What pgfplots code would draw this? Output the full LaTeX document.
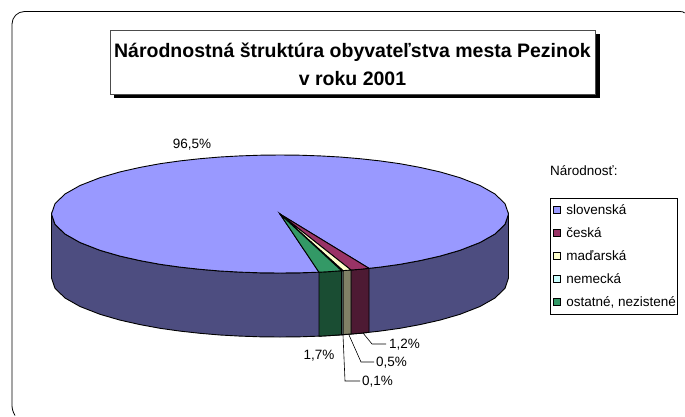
\documentclass[border=0pt]{standalone}
\usepackage{fontspec}
\setmainfont{Liberation Sans}
\usepackage{pgfplots}
\pgfplotsset{compat=1.18}
\definecolor{cSlov}{HTML}{9999FF}
\definecolor{cCes}{HTML}{993366}
\definecolor{cMad}{HTML}{FFFFCC}
\definecolor{cNem}{HTML}{CCFFFF}
\definecolor{cOst}{HTML}{339966}
\definecolor{sSlov}{HTML}{4D4D80}
\definecolor{sCes}{HTML}{4D1A33}
\definecolor{sMad}{HTML}{808066}
\definecolor{sNem}{HTML}{668080}
\definecolor{sOst}{HTML}{1A4D33}
\newcommand{\lab}{\fontsize{13.5}{16}\selectfont}
\begin{document}
\begin{tikzpicture}
\begin{axis}[
  scale only axis, width=685pt, height=416pt,
  xmin=0, xmax=685, ymin=0, ymax=416, y dir=reverse,
  axis lines=none, clip=false,
  legend style={at={(axis cs:549.5,197.7)}, anchor=north west, draw=black, line width=0.7pt,
    font=\lab, row sep=7.5pt, inner xsep=0.5pt, inner ysep=4.5pt,
    nodes={inner xsep=1.5pt},
    cells={anchor=west}, legend cell align=left},
  every axis plot/.append style={line width=0.9pt},
  legend image code/.code={\path (0pt,0pt); \draw[#1,line width=0.8pt] (2.8pt,-3.5pt) rectangle (9.8pt,3.5pt); \path (13.5pt,0pt);},
]
\path (axis cs:0,0) rectangle (axis cs:685,416);
% side wall, whole front
\addplot[fill=sSlov, draw=black, forget plot] coordinates {
(51.5,214)(55,224.3)(65,234)(80,242.5)(100,250.3)(120,256.1)(140,260.6)(160,264.3)(180,267.1)(200,269.3)(220,271)(240,272.1)(260,272.8)(280,273)(300,272.8)(320,272.1)(340,271)(360,269.3)(380,267.1)(400,264.3)(420,260.6)(440,256.1)(460,250.3)(480,242.5)(495,234)(505,224.3)(508.5,214)
(508.5,278)(505,288.3)(495,298)(480,306.5)(460,314.3)(440,320.1)(420,324.6)(400,328.3)(380,331.1)(360,333.3)(340,335)(320,336.1)(300,336.8)(280,337)(260,336.8)(240,336.1)(220,335)(200,333.3)(180,331.1)(160,328.3)(140,324.6)(120,320.1)(100,314.3)(80,306.5)(65,298)(55,288.3)(51.5,278)
} -- cycle;
% side wall of the small slices
\addplot[fill=sCes, draw=black, forget plot] coordinates {(351,270)(360,269.3)(369,268.3)(369,332.3)(360,333.3)(351,334)} -- cycle;
\addplot[fill=sMad, draw=black, forget plot] coordinates {(343,270.6)(351,270)(351,334)(343,334.6)} -- cycle;
\addplot[fill=sNem, draw=black, forget plot] coordinates {(341.5,270.7)(343,270.6)(343,334.6)(341.5,334.7)} -- cycle;
\addplot[fill=sOst, draw=black, forget plot] coordinates {(319,272.2)(330,271.6)(341.5,270.7)(341.5,334.7)(330,335.6)(319,336.2)} -- cycle;
% top faces
\addplot[fill=cSlov, draw=black] coordinates {
(280,214)(319,272.2)(300,272.8)(280,273)(260,272.8)(240,272.1)(220,271)(200,269.3)(180,267.1)(160,264.3)(140,260.6)(120,256.1)(100,250.3)(80,242.5)(65,234)(55,224.3)(51.5,214)
(55,203.7)(65,194)(80,185.5)(100,177.7)(120,171.9)(140,167.4)(160,163.7)(180,160.9)(200,158.7)(220,157)(240,155.9)(260,155.2)(280,155)(300,155.2)(320,155.9)(340,157)(360,158.7)(380,160.9)(400,163.7)(420,167.4)(440,171.9)(460,177.7)(480,185.5)(495,194)(505,203.7)(508.5,214)
(505,224.3)(495,234)(480,242.5)(460,250.3)(440,256.1)(420,260.6)(400,264.3)(380,267.1)(369,268.3)
} -- cycle;
\addlegendentry{slovenská}
\addplot[fill=cCes, draw=black] coordinates {(280,214)(369,268.3)(360,269.3)(351,270)} -- cycle;
\addlegendentry{česká}
\addplot[fill=cMad, draw=black] coordinates {(280,214)(351,270)(343,270.6)} -- cycle;
\addlegendentry{maďarská}
\addplot[fill=cNem, draw=black] coordinates {(280,214)(343,270.6)(341.5,270.7)} -- cycle;
\addlegendentry{nemecká}
\addplot[fill=cOst, draw=black] coordinates {(280,214)(341.5,270.7)(330,271.6)(319,272.2)} -- cycle;
\addlegendentry{ostatné, nezistené}
% chart frame (cut by the picture's edge)
\draw[black, line width=0.8pt] (axis cs:15,415.5) .. controls (axis cs:13,412) and (axis cs:12,409) .. (axis cs:12,405) -- (axis cs:12,24) arc[start angle=180, end angle=90, radius=12.5pt] -- (axis cs:680,11.5) .. controls (axis cs:682,11.5) and (axis cs:684,12) .. (axis cs:684.6,13);
% title
\fill[black] (axis cs:113.5,34) rectangle (axis cs:599.7,98);
\draw[fill=white, draw=black!70, line width=0.7pt] (axis cs:110,30.7) rectangle (axis cs:595.7,94.3);
\node[font=\fontsize{19.5}{28}\selectfont\bfseries, align=center, anchor=center] at (axis cs:352.5,64.5) {Národnostná štruktúra obyvateľstva mesta Pezinok\\v roku 2001};
% data labels
\node[font=\lab] at (axis cs:192,144.5) {96,5\%};
\node[font=\lab] at (axis cs:319,356) {1,7\%};
\node[font=\lab, anchor=west, inner sep=1pt] at (axis cs:388,345) {1,2\%};
\node[font=\lab, anchor=west, inner sep=1pt] at (axis cs:375,363) {0,5\%};
\node[font=\lab, anchor=west, inner sep=1pt] at (axis cs:361,381.5) {0,1\%};
\draw[line width=0.6pt] (axis cs:363,333) -- (axis cs:372,344) -- (axis cs:386,344);
\draw[line width=0.6pt] (axis cs:349,335) -- (axis cs:361,362) -- (axis cs:374,362);
\draw[line width=0.6pt] (axis cs:343,335) -- (axis cs:345,381) -- (axis cs:360,381);
\node[font=\lab, anchor=west, inner sep=0pt] at (axis cs:550,171) {Národnosť:};
\end{axis}
\end{tikzpicture}
\end{document}
